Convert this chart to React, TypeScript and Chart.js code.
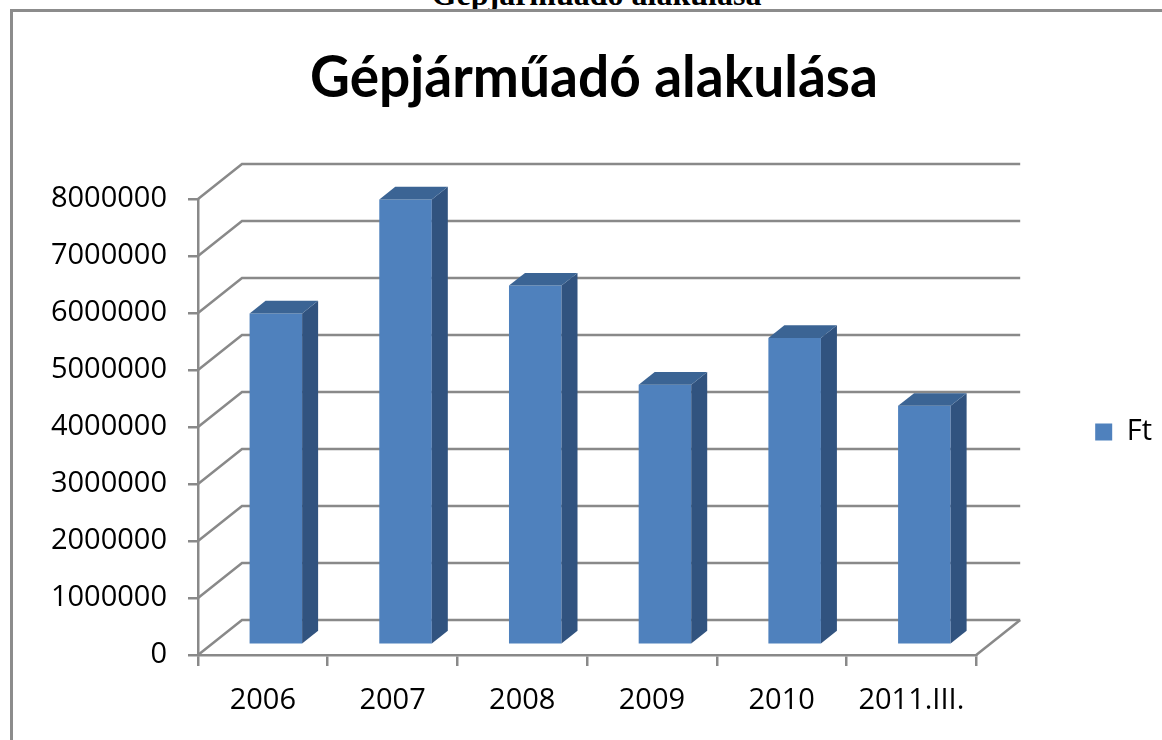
import React, { useEffect, useRef } from "react";
import { Chart, registerables } from "chart.js";

Chart.register(...registerables);

// ---- data ----
const categories = ["2006", "2007", "2008", "2009", "2010", "2011.III."];
const values = [5810000, 7810000, 6300000, 4560000, 5380000, 4190000];
const seriesName = "Ft";
const chartTitle = "Gépjárműadó alakulása";
const yMin = 0;
const yMax = 8000000;
const yStep = 1000000;

// ---- styles ----
const FRONT = "#4F81BD";
const SIDE = "#31537F";
const TOP = "#3B6494";
const GRID = "#898989";
const GRID_W = 2.5;
const DEPTH_X = 44;
const DEPTH_Y = 35;
const BAR_SHIFT_X = 13;
const BAR_SHIFT_Y = 10.3;
const BAR_DEPTH_X = 16;
const BAR_DEPTH_Y = 12.7;

const TITLE_FONT = "bold 58px Lato, 'Open Sans', sans-serif";
const TITLE_CX = 594;
const TITLE_BASELINE = 97;
const TITLE_MAXW = 568;

const chartTitlePlugin = {
  id: "chartTitleText",
  afterDraw(chart: any) {
    const { ctx } = chart;
    ctx.save();
    ctx.font = TITLE_FONT;
    ctx.fillStyle = "#000";
    ctx.textAlign = "center";
    ctx.textBaseline = "alphabetic";
    ctx.fillText(chartTitle, TITLE_CX, TITLE_BASELINE, TITLE_MAXW);
    ctx.restore();
  },
};

const depth3d = {
  id: "depth3d",
  beforeDatasetsDraw(chart: any) {
    const { ctx, chartArea, scales } = chart;
    const { left, right, bottom } = chartArea;
    const y = scales.y;
    ctx.save();
    ctx.strokeStyle = GRID;
    ctx.lineWidth = GRID_W;
    y.ticks.forEach((t: any) => {
      const py = y.getPixelForValue(t.value);
      ctx.beginPath();
      ctx.moveTo(left, py);
      ctx.lineTo(left + DEPTH_X, py - DEPTH_Y);
      ctx.lineTo(right + DEPTH_X, py - DEPTH_Y);
      ctx.stroke();
    });
    ctx.beginPath();
    ctx.moveTo(right, bottom);
    ctx.lineTo(right + DEPTH_X, bottom - DEPTH_Y);
    ctx.stroke();
    ctx.restore();
    ctx.save();
    ctx.translate(BAR_SHIFT_X, -BAR_SHIFT_Y);
  },
  afterDatasetsDraw(chart: any) {
    const { ctx } = chart;
    const meta = chart.getDatasetMeta(0);
    meta.data.forEach((bar: any) => {
      const { x, y, base, width } = bar.getProps(["x", "y", "base", "width"], true);
      const l = x - width / 2;
      const r = x + width / 2;
      ctx.fillStyle = SIDE;
      ctx.beginPath();
      ctx.moveTo(r, y);
      ctx.lineTo(r + BAR_DEPTH_X, y - BAR_DEPTH_Y);
      ctx.lineTo(r + BAR_DEPTH_X, base - BAR_DEPTH_Y);
      ctx.lineTo(r, base);
      ctx.closePath();
      ctx.fill();
      ctx.fillStyle = TOP;
      ctx.beginPath();
      ctx.moveTo(l, y);
      ctx.lineTo(l + BAR_DEPTH_X, y - BAR_DEPTH_Y);
      ctx.lineTo(r + BAR_DEPTH_X, y - BAR_DEPTH_Y);
      ctx.lineTo(r, y);
      ctx.closePath();
      ctx.fill();
    });
    ctx.restore();
  },
};

export default function App() {
  const ref = useRef<HTMLCanvasElement>(null);
  useEffect(() => {
    if (!ref.current) return;
    const tickFont = { family: "'Open Sans', sans-serif", size: 29 };
    const chart = new Chart(ref.current, {
      type: "bar",
      data: {
        labels: categories,
        datasets: [
          {
            label: seriesName,
            data: values,
            backgroundColor: FRONT,
            borderWidth: 0,
            categoryPercentage: 1,
            barPercentage: 0.405,
            clip: false as any,
          },
        ],
      },
      options: {
        animation: false,
        responsive: false,
        devicePixelRatio: 1,
        layout: { padding: { left: 26, right: 0, top: 199, bottom: 0 } },
        plugins: {
          title: { display: false },
          legend: {
            display: true,
            position: "right",
            align: "center",
            fullSize: false,
            title: { display: true, text: "", padding: 0, font: { size: 10, lineHeight: 1 } },
            labels: {
              boxWidth: 17,
              boxHeight: 17,
              padding: 119,
              color: "#000",
              font: tickFont,
            },
          },
          tooltip: { enabled: false },
        },
        scales: {
          x: {
            offset: true,
            grid: { display: true, offset: true, drawOnChartArea: false, drawTicks: true, tickLength: 11, color: GRID, lineWidth: GRID_W },
            border: { display: true, color: GRID, width: GRID_W },
            ticks: { color: "#000", font: tickFont, padding: 17, maxRotation: 0 },
            afterFit: (s: any) => { s.height = 85; },
          },
          y: {
            min: yMin,
            max: yMax,
            grid: { display: true, drawOnChartArea: false, drawTicks: true, tickLength: 10, color: GRID, lineWidth: GRID_W },
            border: { display: true, color: GRID, width: GRID_W },
            ticks: {
              stepSize: yStep,
              color: "#000",
              font: tickFont,
              padding: 21,
              callback: (v: any) => String(v),
            },
            afterFit: (s: any) => { s.width = 172; },
          },
        },
      },
      plugins: [depth3d, chartTitlePlugin],
    } as any);
    return () => chart.destroy();
  }, []);

  return (
    <div style={{ position: "fixed", left: 0, top: 0, width: 1162, height: 740, overflow: "hidden", background: "#fff" }}>
      <div
        style={{
          position: "absolute",
          left: 596.5,
          top: -24,
          transform: "translateX(-50%)",
          whiteSpace: "nowrap",
          font: "bold 32px 'Liberation Serif', 'Times New Roman', serif",
          lineHeight: "normal",
          color: "#000",
        }}
      >
        {chartTitle}
      </div>
      <canvas ref={ref} width={1162} height={740} style={{ position: "absolute", left: 0, top: 0, width: 1162, height: 740 }} />
      <div
        style={{
          position: "absolute",
          left: 10,
          top: 9,
          right: 0,
          bottom: 0,
          borderLeft: "3px solid #8c8c8c",
          borderTop: "3px solid #8c8c8c",
          pointerEvents: "none",
        }}
      />
    </div>
  );
}
